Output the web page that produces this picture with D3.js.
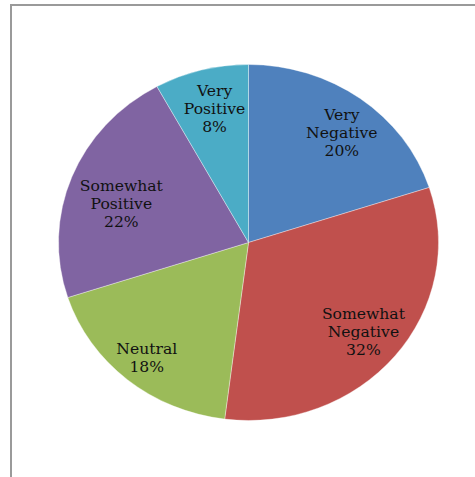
<!DOCTYPE html>
<html>
<head>
<meta charset="utf-8">
<script src="https://cdn.jsdelivr.net/npm/d3@7"></script>
<style>
  html, body { margin: 0; padding: 0; background: #fff; }
  svg { display: block; }
</style>
</head>
<body>
<svg id="chart" width="475" height="477"></svg>
<script>
// Survey responses by sentiment
const categories = ["Very Negative", "Somewhat Negative", "Neutral", "Somewhat Positive", "Very Positive"];
const labelLines = [["Very", "Negative"], ["Somewhat", "Negative"], ["Neutral"], ["Somewhat", "Positive"], ["Very", "Positive"]];
const shares = [20, 32, 18, 22, 8];
const colors = ["#4F81BD", "#C0504D", "#9BBB59", "#8064A2", "#4BACC6"];
// label placement: fraction of the radius along each slice's bisector, plus a small pixel nudge
const labelFraction = [0.8, 0.785, 0.84, 0.68, 0.76];
const labelNudge = [[4, 5], [0, 0], [0, 0], [-7, 6], [2, -3]];

const svg = d3.select("#chart");
const width = 475, height = 477;

// chart frame (top and left edges visible)
svg.append("path")
  .attr("d", `M11,${height + 2} L11,5 L${width + 2},5`)
  .attr("fill", "none")
  .attr("stroke", "#9a9a9a")
  .attr("stroke-width", 2);

const cx = 248.5, cy = 242.5, rx = 190, ry = 178;

const pie = d3.pie().sort(null).value(d => d.v);
const data = categories.map((c, i) => ({ c, v: shares[i], i }));
const arcs = pie(data);

const arc = d3.arc().innerRadius(0).outerRadius(rx);

const g = svg.append("g")
  .attr("transform", `translate(${cx},${cy}) scale(1,${ry / rx})`);

g.selectAll("path.slice")
  .data(arcs)
  .enter().append("path")
  .attr("class", "slice")
  .attr("d", arc)
  .attr("fill", d => colors[d.data.i])
  .attr("stroke", "rgba(255,255,255,0.45)")
  .attr("stroke-width", 0.8)
  .attr("vector-effect", "non-scaling-stroke");

// labels
const lineH = 18;
const labels = svg.append("g")
  .attr("font-family", "'DejaVu Serif', serif")
  .attr("font-size", "15.6px")
  .attr("fill", "#111")
  .attr("text-anchor", "middle");

arcs.forEach(d => {
  const i = d.data.i;
  const mid = (d.startAngle + d.endAngle) / 2;
  const k = labelFraction[i];
  const x = cx + k * rx * Math.sin(mid) + labelNudge[i][0];
  const y = cy - k * ry * Math.cos(mid) + labelNudge[i][1];
  const lines = labelLines[i].concat([shares[i] + "%"]);
  const top = y - (lines.length - 1) * lineH / 2;
  const t = labels.append("text");
  lines.forEach((s, j) => {
    t.append("tspan")
      .attr("x", x)
      .attr("y", top + j * lineH)
      .attr("dy", "0.35em")
      .text(s);
  });
});
</script>
</body>
</html>
